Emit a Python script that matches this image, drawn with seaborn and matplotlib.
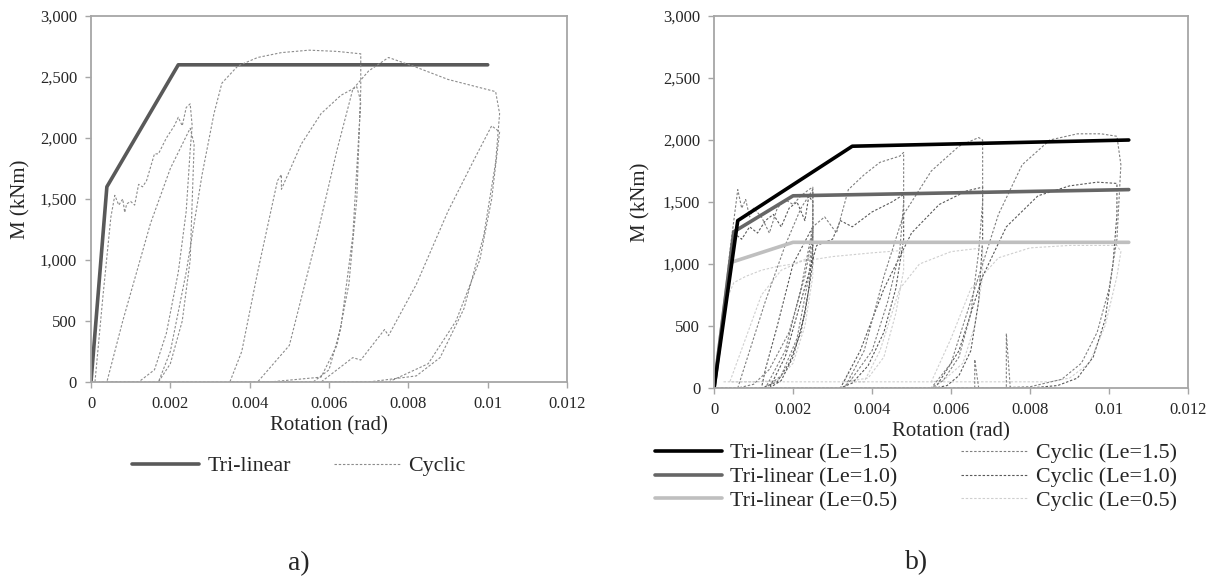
import matplotlib
matplotlib.use("Agg")
import matplotlib.pyplot as plt
import matplotlib.ticker as mticker
from matplotlib.lines import Line2D
import seaborn as sns

# ---- data ----
rot_ticks = [0, 0.002, 0.004, 0.006, 0.008, 0.01, 0.012]
m_ticks = [0, 500, 1000, 1500, 2000, 2500, 3000]

# a) single model
tri_a_x = [0, 0.0004, 0.0022, 0.0100]
tri_a_y = [0, 1600, 2600, 2600]

cyc_a = [
    (0, 0), (0.0001, 0), (0.0003, 700), (0.0005, 1350), (0.0006, 1530),
    (0.0007, 1450), (0.0008, 1500), (0.00085, 1390), (0.0009, 1460), (0.001, 1480),
    (0.0011, 1450), (0.0012, 1620), (0.0013, 1600), (0.0014, 1650), (0.0016, 1870),
    (0.0017, 1870), (0.0019, 2000), (0.0021, 2100), (0.0022, 2170), (0.0023, 2100),
    (0.0024, 2250), (0.0025, 2280), (0.00255, 2100), (0.0025, 1900), (0.0024, 1400),
    (0.0022, 900), (0.0019, 400), (0.0016, 100), (0.0012, 0), (0.0004, 0),
    (0.0008, 500), (0.0015, 1300), (0.002, 1750), (0.0025, 2080), (0.0026, 1950),
    (0.0025, 1000), (0.0023, 500), (0.002, 150), (0.0017, 0), (0.002, 250),
    (0.0024, 900), (0.0028, 1700), (0.0031, 2200), (0.0033, 2450), (0.0037, 2590),
    (0.0042, 2660), (0.0048, 2700), (0.0055, 2720), (0.0062, 2710), (0.0068, 2690),
    (0.0068, 2400), (0.0067, 1500), (0.0065, 800), (0.0062, 300), (0.0058, 40),
    (0.0045, 0), (0.0035, 0), (0.0038, 250), (0.0042, 900), (0.0047, 1650),
    (0.0048, 1700), (0.0048, 1580), (0.0053, 1950), (0.0058, 2200), (0.0063, 2350),
    (0.0067, 2420), (0.0068, 2300), (0.0066, 1200), (0.0063, 450), (0.006, 100),
    (0.0056, 0), (0.0042, 0), (0.005, 300), (0.0057, 1200), (0.0062, 1900),
    (0.0066, 2400), (0.007, 2550), (0.0075, 2660), (0.0082, 2580), (0.009, 2480),
    (0.0102, 2380), (0.0103, 2200), (0.0102, 1800), (0.0099, 1200), (0.0094, 600),
    (0.0088, 200), (0.0082, 50), (0.007, 0), (0.0058, 0), (0.0066, 200),
    (0.0068, 180), (0.0074, 430), (0.0075, 380), (0.0082, 800), (0.009, 1400),
    (0.0097, 1850), (0.0101, 2100), (0.0103, 2050), (0.0101, 1500), (0.0098, 1000),
    (0.0092, 500), (0.0085, 150), (0.0075, 0), (0.0002, 0),
]

# b) three effective lengths
tri_b_x = {
    "Le=1.5": [0, 0.0006, 0.0035, 0.0105],
    "Le=1.0": [0, 0.0005, 0.0020, 0.0105],
    "Le=0.5": [0, 0.0004, 0.0020, 0.0105],
}
tri_b_y = {
    "Le=1.5": [0, 1350, 1950, 2000],
    "Le=1.0": [0, 1260, 1550, 1600],
    "Le=0.5": [0, 1010, 1175, 1175],
}

cyc_15 = [
    (0, 0), (0.0002, 500), (0.0004, 1100), (0.0006, 1600), (0.0007, 1450),
    (0.0008, 1520), (0.0009, 1380), (0.001, 1450), (0.0012, 1380), (0.0014, 1250),
    (0.0016, 1450), (0.0018, 1520), (0.002, 1480), (0.0022, 1550), (0.0024, 1600),
    (0.0025, 1620), (0.0025, 1250), (0.0023, 900), (0.0019, 450), (0.0014, 150),
    (0.001, 30), (0.0006, 0), (0.0008, 200), (0.0013, 700), (0.0018, 1150),
    (0.0022, 1450), (0.0025, 1600), (0.0025, 1300), (0.0024, 900), (0.0021, 400),
    (0.0017, 100), (0.0013, 0), (0.0018, 300), (0.0022, 800), (0.0025, 1300),
    (0.0028, 1380), (0.0031, 1250), (0.0034, 1600), (0.0038, 1720), (0.0042, 1820),
    (0.0047, 1870), (0.0048, 1900), (0.0048, 1500), (0.0047, 1100), (0.0044, 700),
    (0.004, 300), (0.0035, 80), (0.0033, 0), (0.0038, 300), (0.0043, 900),
    (0.0048, 1400), (0.0055, 1750), (0.0062, 1950), (0.0067, 2020), (0.0068, 2000),
    (0.0068, 1500), (0.0067, 1100), (0.0065, 600), (0.0062, 250), (0.0058, 60),
    (0.0055, 0), (0.006, 200), (0.0066, 800), (0.0072, 1400), (0.0078, 1800),
    (0.0085, 2000), (0.0092, 2050), (0.0098, 2050), (0.0102, 2030), (0.0103, 1800),
    (0.0102, 1200), (0.01, 800), (0.0097, 450), (0.0093, 200), (0.0088, 70),
    (0.008, 10), (0.007, 0), (0.0074, 0), (0.0074, 440), (0.0075, 0),
    (0.0066, 0), (0.0066, 230), (0.0067, 0), (0.0002, 0),
]

cyc_10 = [
    (0, 0), (0.0002, 450), (0.0004, 950), (0.0005, 1250), (0.0007, 1200),
    (0.0009, 1300), (0.0011, 1250), (0.0013, 1350), (0.0015, 1400), (0.0017, 1300),
    (0.0019, 1450), (0.0021, 1500), (0.0023, 1350), (0.0024, 1550), (0.0025, 1500),
    (0.0025, 1150), (0.0024, 800), (0.0022, 450), (0.0019, 200), (0.0016, 50),
    (0.0012, 0), (0.0013, 150), (0.0016, 500), (0.002, 1000), (0.0025, 1300),
    (0.0025, 1000), (0.0023, 600), (0.002, 250), (0.0017, 60), (0.0014, 0),
    (0.0018, 250), (0.0022, 700), (0.0026, 1150), (0.003, 1200), (0.0032, 1350),
    (0.0035, 1300), (0.004, 1420), (0.0045, 1500), (0.0048, 1560), (0.0048, 1200),
    (0.0046, 800), (0.0043, 450), (0.0039, 180), (0.0035, 40), (0.0032, 0),
    (0.0037, 300), (0.0043, 800), (0.005, 1250), (0.0057, 1480), (0.0064, 1590),
    (0.0068, 1620), (0.0068, 1200), (0.0067, 700), (0.0065, 300), (0.0062, 100),
    (0.0059, 20), (0.0056, 0), (0.0062, 300), (0.0068, 900), (0.0074, 1300),
    (0.0082, 1550), (0.009, 1630), (0.0097, 1660), (0.0102, 1650), (0.0102, 1400),
    (0.0101, 1000), (0.0099, 550), (0.0096, 250), (0.0092, 80), (0.0087, 20),
    (0.008, 0), (0.0, 0),
]

cyc_05 = [
    (0, 0), (0.0001, 300), (0.0003, 700), (0.0005, 850), (0.0008, 900),
    (0.0012, 950), (0.0016, 980), (0.002, 1000), (0.0024, 1050), (0.0025, 1080),
    (0.0025, 900), (0.0023, 500), (0.002, 200), (0.0016, 60), (0.001, 50),
    (0.0004, 50), (0.0008, 400), (0.0012, 750), (0.0017, 950), (0.0022, 1020),
    (0.003, 1060), (0.004, 1090), (0.0048, 1110), (0.0048, 950), (0.0046, 600),
    (0.0043, 250), (0.0039, 80), (0.0033, 50), (0.0034, 130), (0.0035, 50),
    (0.0038, 50), (0.0042, 300), (0.0047, 800), (0.0052, 1000), (0.006, 1100),
    (0.0068, 1130), (0.0068, 900), (0.0066, 500), (0.0063, 200), (0.0058, 60),
    (0.0055, 50), (0.006, 400), (0.0065, 800), (0.0072, 1050), (0.008, 1130),
    (0.009, 1150), (0.0102, 1150), (0.0103, 1100), (0.0102, 900), (0.0099, 500),
    (0.0095, 200), (0.009, 80), (0.0085, 50), (0.008, 50), (0.0002, 50),
]

# ---- style ----
sns.set_theme(style="white")
plt.rcParams["font.family"] = ["Liberation Serif", "DejaVu Serif"]
plt.rcParams["axes.edgecolor"] = "#A6A6A6"
plt.rcParams["axes.linewidth"] = 1.3

fig = plt.figure(figsize=(12.15, 5.78), dpi=100)
ax_a = fig.add_axes([0.0749, 0.3391, 0.3918, 0.6332])
ax_b = fig.add_axes([0.5877, 0.3287, 0.3901, 0.6436])

dash = (2.2, 1.6)


def draw_path(ax, pts, color, lw, label=None):
    xs = [p[0] for p in pts]
    ys = [p[1] for p in pts]
    sns.lineplot(x=xs, y=ys, sort=False, estimator=None, color=color,
                 linewidth=lw, ax=ax, label=label)
    ax.lines[-1].set_dashes(dash)


# a)
sns.lineplot(x=tri_a_x, y=tri_a_y, sort=False, estimator=None, color="#595959",
             linewidth=2.6, ax=ax_a, label="Tri-linear")
draw_path(ax_a, cyc_a, "#8C8C8C", 0.8, label="Cyclic")

# b)
tri_cols = {"Le=1.5": "#000000", "Le=1.0": "#666666", "Le=0.5": "#BFBFBF"}
cyc_cols = {"Le=1.5": "#808080", "Le=1.0": "#595959", "Le=0.5": "#CFCFCF"}
cyc_b = {"Le=1.0": cyc_10, "Le=1.5": cyc_15, "Le=0.5": cyc_05}
for key in ["Le=0.5", "Le=1.0", "Le=1.5"]:
    draw_path(ax_b, cyc_b[key], cyc_cols[key], 0.8)
for key in ["Le=0.5", "Le=1.0", "Le=1.5"]:
    sns.lineplot(x=tri_b_x[key], y=tri_b_y[key], sort=False, estimator=None,
                 color=tri_cols[key], linewidth=2.6, ax=ax_b)

for ax, ylab_x in ((ax_a, -0.128), (ax_b, -0.135)):
    ax.set_xlim(0, 0.012)
    ax.set_ylim(0, 3000)
    ax.set_xticks(rot_ticks)
    ax.set_yticks(m_ticks)
    ax.xaxis.set_major_formatter(mticker.FuncFormatter(lambda v, p: f"{v:g}"))
    ax.yaxis.set_major_formatter(mticker.FuncFormatter(lambda v, p: f"{v:,.0f}"))
    ax.tick_params(axis="both", which="major", length=4, width=1, color="#A6A6A6",
                   labelsize=12, direction="out", pad=6, bottom=True, left=True)
    ax.set_xlabel("Rotation (rad)", fontsize=15, labelpad=3)
    ax.set_ylabel("M (kNm)", fontsize=15)
    ax.yaxis.set_label_coords(ylab_x, 0.5)
    for s in ax.spines.values():
        s.set_color("#A6A6A6")

# legends
ax_a.legend(loc="center", bbox_to_anchor=(299 / 1215, 1 - 466 / 578),
            bbox_transform=fig.transFigure, ncol=2, frameon=False,
            fontsize=15.8, handlelength=3.05, columnspacing=1.95,
            handletextpad=0.36)

handles = []
labels = []
for key in ["Le=1.5", "Le=1.0", "Le=0.5"]:
    handles.append(Line2D([], [], color=tri_cols[key], linewidth=2.6))
    labels.append(f"Tri-linear ({key})")
for key in ["Le=1.5", "Le=1.0", "Le=0.5"]:
    handles.append(Line2D([], [], color=cyc_cols[key], linewidth=0.8, dashes=dash))
    labels.append(f"Cyclic ({key})")
ax_b.legend(handles, labels, loc="center", bbox_to_anchor=(916 / 1215, 1 - 477 / 578),
            bbox_transform=fig.transFigure, ncol=2, frameon=False, fontsize=15.8,
            handlelength=3.05, columnspacing=2.95, handletextpad=0.36,
            labelspacing=0.16)

fig.text(299 / 1215, 1 - 564 / 578, "a)", ha="center", va="center", fontsize=20)
fig.text(917 / 1215, 1 - 563 / 578, "b)", ha="center", va="center", fontsize=20)

fig.savefig("out.png", dpi=100)
